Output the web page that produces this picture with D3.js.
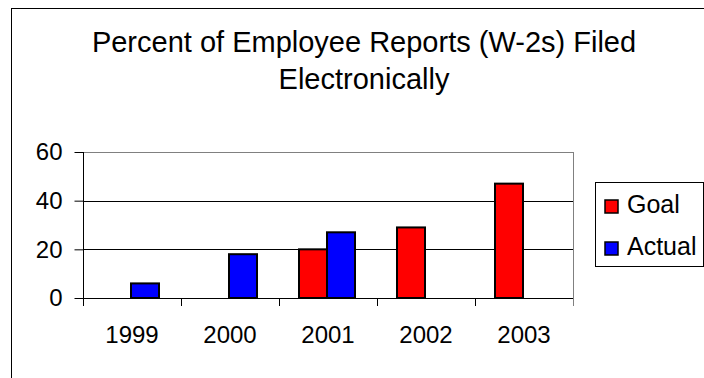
<!DOCTYPE html>
<html>
<head>
<meta charset="utf-8">
<script src="https://cdn.jsdelivr.net/npm/d3@7"></script>
<style>
  html, body { margin: 0; padding: 0; background: #fff; }
  svg { display: block; font-family: "Liberation Sans", Arial, sans-serif; }
</style>
</head>
<body>
<div id="chart"></div>
<script>
// W-2s filed electronically - goal vs actual

// Data
const years = ['1999', '2000', '2001', '2002', '2003'];
const goalValues = [null, null, 20, 29, 47];
const actualValues = [6, 18, 27, null, null];
const seriesNames = ['Goal', 'Actual'];
const seriesColors = ['#ff0000', '#0000ff'];
const yTickValues = [0, 20, 40, 60];
const titleLines = ['Percent of Employee Reports (W-2s) Filed', 'Electronically'];

// Configuration
const config = {
    width: 704,
    height: 378,
    plot: { left: 83, right: 573, top: 152, bottom: 298 },
    yMax: 60
};

const svg = d3.select('#chart')
    .append('svg')
    .attr('width', config.width)
    .attr('height', config.height);

// Outer chart frame (right and bottom edges fall outside the picture)
svg.append('rect')
    .attr('x', 11.5)
    .attr('y', 8.5)
    .attr('width', 800)
    .attr('height', 500)
    .attr('fill', 'none')
    .attr('stroke', '#000')
    .attr('stroke-width', 1);

// Title
svg.append('g')
    .selectAll('text')
    .data(titleLines)
    .enter().append('text')
    .attr('x', 364)
    .attr('y', (d, i) => 52 + i * 37)
    .attr('text-anchor', 'middle')
    .attr('font-size', 29)
    .attr('fill', '#000')
    .text(d => d);

// Scales
const x0 = d3.scaleBand()
    .domain(years)
    .range([config.plot.left, config.plot.right])
    .padding(0);

const x1 = d3.scaleBand()
    .domain(seriesNames)
    .range([0, x0.bandwidth()])
    .paddingInner(0)
    .paddingOuter(0.75);

const y = d3.scaleLinear()
    .domain([0, config.yMax])
    .range([config.plot.bottom, config.plot.top]);

const color = d3.scaleOrdinal().domain(seriesNames).range(seriesColors);

// Plot area border (gray)
svg.append('rect')
    .attr('x', config.plot.left + 0.5)
    .attr('y', y(config.yMax) + 0.5)
    .attr('width', config.plot.right - config.plot.left)
    .attr('height', y(0) - y(config.yMax))
    .attr('fill', 'none')
    .attr('stroke', '#808080')
    .attr('stroke-width', 1);

// Gridlines
svg.append('g')
    .selectAll('line')
    .data(yTickValues.filter(v => v > 0 && v < config.yMax))
    .enter().append('line')
    .attr('x1', config.plot.left)
    .attr('x2', config.plot.right)
    .attr('y1', d => Math.round(y(d)) + 0.5)
    .attr('y2', d => Math.round(y(d)) + 0.5)
    .attr('stroke', '#000')
    .attr('stroke-width', 1);

// Bars
const rows = years.map((yr, i) => ({
    year: yr,
    values: [
        { name: 'Goal', value: goalValues[i] },
        { name: 'Actual', value: actualValues[i] }
    ].filter(d => d.value !== null)
}));

svg.append('g')
    .selectAll('g')
    .data(rows)
    .enter().append('g')
    .attr('transform', d => `translate(${x0(d.year)},0)`)
    .selectAll('rect')
    .data(d => d.values)
    .enter().append('rect')
    .attr('x', d => x1(d.name) - 1)
    .attr('y', d => y(d.value))
    .attr('width', x1.bandwidth())
    .attr('height', d => y(0) - y(d.value))
    .attr('fill', d => color(d.name))
    .attr('stroke', '#000')
    .attr('stroke-width', 2);

// Y axis
const yAxis = svg.append('g')
    .attr('transform', `translate(${config.plot.left + 0.5},0)`)
    .call(d3.axisLeft(y).tickValues(yTickValues).tickSize(9).tickPadding(12));

yAxis.select('.domain').remove();
yAxis.selectAll('.tick line').attr('stroke', '#000');
yAxis.selectAll('.tick text')
    .attr('font-size', 24)
    .attr('font-family', '"Liberation Sans", Arial, sans-serif')
    .attr('fill', '#000');

svg.append('line')
    .attr('x1', config.plot.left + 0.5)
    .attr('x2', config.plot.left + 0.5)
    .attr('y1', config.plot.top)
    .attr('y2', config.plot.bottom + 8)
    .attr('stroke', '#000');

// X axis: line, boundary ticks, centred labels
svg.append('line')
    .attr('x1', config.plot.left)
    .attr('x2', config.plot.right)
    .attr('y1', config.plot.bottom + 0.5)
    .attr('y2', config.plot.bottom + 0.5)
    .attr('stroke', '#000');

const boundaries = years.map(d => x0(d)).concat([x0.range()[1]]);
svg.append('g')
    .selectAll('line')
    .data(boundaries)
    .enter().append('line')
    .attr('x1', d => d + 0.5)
    .attr('x2', d => d + 0.5)
    .attr('y1', config.plot.bottom)
    .attr('y2', config.plot.bottom + 8)
    .attr('stroke', (d, i) => i === boundaries.length - 1 ? '#808080' : '#000');

const xAxis = svg.append('g')
    .attr('transform', `translate(0,${config.plot.bottom})`)
    .call(d3.axisBottom(x0).tickSize(0).tickPadding(28));

xAxis.select('.domain').remove();
xAxis.selectAll('.tick text')
    .attr('font-size', 24)
    .attr('font-family', '"Liberation Sans", Arial, sans-serif')
    .attr('fill', '#000');

// Legend
const legend = svg.append('g');

legend.append('rect')
    .attr('x', 595.5)
    .attr('y', 182.5)
    .attr('width', 108)
    .attr('height', 84)
    .attr('fill', '#fff')
    .attr('stroke', '#000')
    .attr('stroke-width', 1);

const legendItems = legend.selectAll('g.item')
    .data(seriesNames)
    .enter().append('g')
    .attr('class', 'item')
    .attr('transform', (d, i) => `translate(0,${i * 42})`);

legendItems.append('rect')
    .attr('x', 605)
    .attr('y', 200)
    .attr('width', 13)
    .attr('height', 13)
    .attr('fill', d => color(d))
    .attr('stroke', '#000')
    .attr('stroke-width', 1.5);

legendItems.append('text')
    .attr('x', 627)
    .attr('y', 213)
    .attr('font-size', 25)
    .attr('fill', '#000')
    .text(d => d);
</script>
</body>
</html>
